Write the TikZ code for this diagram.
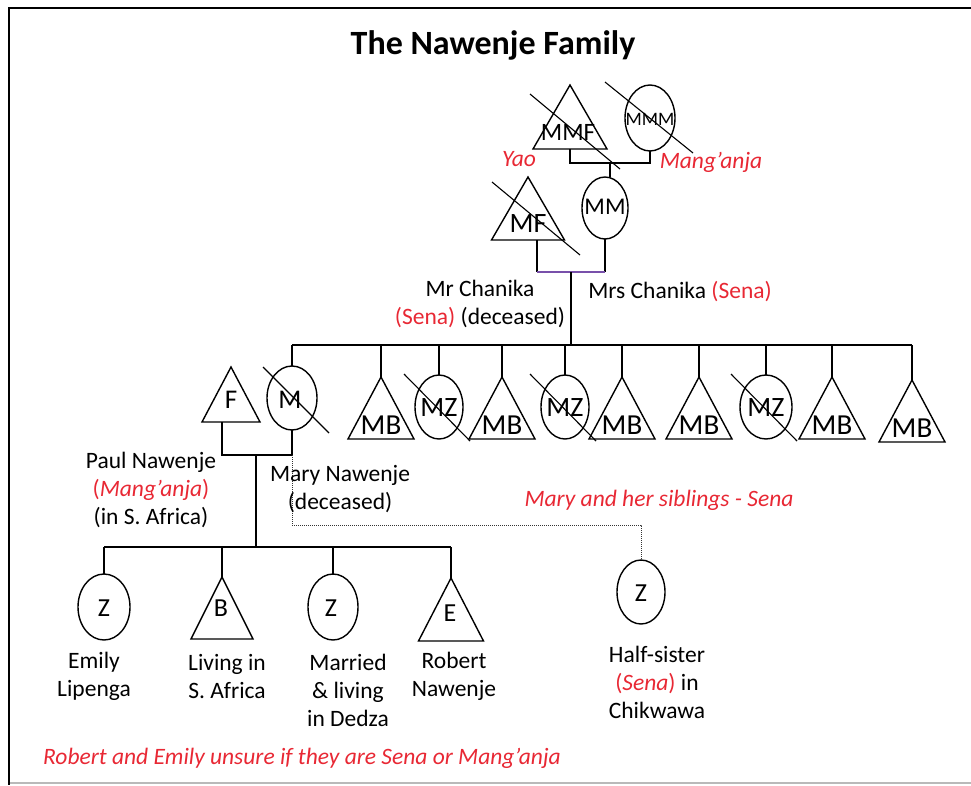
\documentclass[tikz,border=0pt]{standalone}
\usepackage{fontspec}
\setmainfont{Carlito}
\usetikzlibrary{shapes.geometric,calc}
\definecolor{ethnic}{RGB}{232,40,52}
\definecolor{wedlock}{RGB}{120,80,170}
\newcommand\eth[1]{\textcolor{ethnic}{#1}}
\begin{document}
\begin{tikzpicture}[x=1pt,y=-1pt,
  line/.style={line width=1.5pt, black},
  halfline/.style={line width=1pt, black!80, densely dotted},
  person/.style={draw=black, line width=1.4pt},
  strike/.style={line width=1.1pt, black},
  woman/.style={ellipse, draw=black, line width=1.4pt, inner sep=0pt, outer sep=0pt,
                minimum width=50, minimum height=64},
  man/.style={rectangle, inner sep=0pt, outer sep=0pt, minimum width=66, minimum height=62},
  lbl/.style={inner sep=0pt, font=\fontsize{27}{27}\selectfont},
  txt/.style={inner sep=0pt, align=center, font=\fontsize{23.5}{28}\selectfont},
  eth/.style={inner sep=0pt, align=center, text=ethnic, font=\fontsize{23.5}{28}\selectfont\itshape}]
\useasboundingbox (0,0) rectangle (971,785);

% frame
\draw[gray!55, line width=2pt] (9,783) -- (971,783);
\draw[black, line width=2.5pt] (971,8) -- (9,8) -- (9,785);

% title
\node[font=\fontsize{34}{34}\selectfont\bfseries] (title) at (493,45) {The Nawenje Family};

% generation I
\node[man, minimum width=74, minimum height=64] (mmf) at (570,117) {};
\node[woman, minimum width=50, minimum height=66] (mmm) at (650,118) {};
% generation II
\node[man, minimum width=73, minimum height=63] (mf) at (528,208.5) {};
\node[woman, minimum width=46, minimum height=62] (mm) at (605,208) {};
% generation III
\node[man, minimum width=58, minimum height=55] (f) at (231,394.5) {};
\node[woman] (m) at (292,398) {};
\node[man] (mb1) at (381,408) {};
\node[woman, minimum width=48] (mz1) at (439,407) {};
\node[man] (mb2) at (502,408) {};
\node[woman, minimum width=48] (mz2) at (565,407) {};
\node[man] (mb3) at (622,408) {};
\node[man] (mb4) at (699,408) {};
\node[woman, minimum width=52] (mz3) at (766,407) {};
\node[man] (mb5) at (832,408) {};
\node[man] (mb6) at (912,411) {};
% generation IV
\node[woman, minimum width=52, minimum height=66] (z1) at (104,607) {};
\node[man, minimum width=62, minimum height=62] (b) at (222,608) {};
\node[woman, minimum height=66] (z2) at (333,607) {};
\node[man, minimum width=65, minimum height=63] (e) at (451,609.5) {};
\node[woman, minimum width=48, minimum height=64] (z3) at (641,592) {};

% triangles for the men
\foreach \n in {mmf,mf,f,mb1,mb2,mb3,mb4,mb5,mb6,b,e}
  \draw[person] (\n.north) -- (\n.south east) -- (\n.south west) -- cycle;

% kin-term labels
\node[lbl, font=\fontsize{25}{25}\selectfont] at (568,132) {MMF};
\node[lbl, font=\fontsize{19}{19}\selectfont] at (650,119) {MMM};
\node[lbl, font=\fontsize{24}{24}\selectfont] at (605,207) {MM};
\node[lbl, font=\fontsize{28}{28}\selectfont] at (528,224) {MF};
\node[lbl] at (231,400) {F};
\node[lbl] at (290,400) {M};
\foreach \n in {mb1,mb2,mb3,mb4,mb5,mb6}
  \node[lbl, font=\fontsize{29}{29}\selectfont] at ($(\n.south)+(0,-14)$) {MB};
\foreach \n in {mz1,mz2,mz3}
  \node[lbl, font=\fontsize{28}{28}\selectfont] at ($(\n.center)+(0,1)$) {MZ};
\node[lbl, font=\fontsize{26}{26}\selectfont] at (104,608) {Z};
\node[lbl, font=\fontsize{26}{26}\selectfont] at (221,608) {B};
\node[lbl, font=\fontsize{26}{26}\selectfont] at (331,608) {Z};
\node[lbl, font=\fontsize{26}{26}\selectfont] at (450,613) {E};
\node[lbl, font=\fontsize{26}{26}\selectfont] at (641,593) {Z};

% deceased: struck through
\draw[strike] ($(mmf.center)+(-40,-23)$) -- ($(mmf.center)+(50,52)$);
\draw[strike] ($(mmm.center)+(-45,-36)$) -- ($(mmm.center)+(43,35)$);
\draw[strike] ($(mf.center)+(-36,-26.5)$) -- ($(mf.center)+(52,46.5)$);
\draw[strike] ($(m.center)+(-29,-31)$) -- ($(m.center)+(37,35)$);
\foreach \n in {mz1,mz2,mz3}
  \draw[strike] ($(\n.center)+(-35,-33)$) -- ($(\n.center)+(31,34)$);

% MMF + MMM
\draw[line] (mmf.south) -- ++(0,14) coordinate (g1) -| (mmm.south);
\coordinate (g1mid) at ($(g1)!0.5!(g1 -| mmm.south)$);
\draw[line] (g1mid) -- (g1mid |- mm.north);

% MF + MM
\draw[line] ($(mf.south)+(9,0)$) -- ++(0,32) coordinate (g2a);
\draw[line] (mm.south) -- (mm.south |- g2a) coordinate (g2b);
\draw[line, wedlock] (g2a) -- (g2b);
\draw[line] ($(g2a)!0.5!(g2b)$) -- ++(0,73) coordinate (sib);

% Mary and her siblings
\draw[line] (m.north |- sib) -- (mb6.north |- sib);
\foreach \n in {m,mb1,mz1,mb2,mz2,mb3,mb4,mz3,mb5,mb6}
  \draw[line] (\n.north |- sib) -- (\n.north);

% F + M
\draw[line] ($(f.south)+(-9,0)$) -- ++(0,33) coordinate (pm) -| (m.south);
\draw[line] ($(pm)+(34,0)$) -- ++(0,92) coordinate (kids);
\draw[line] (z1.north |- kids) -- (e.north |- kids);
\foreach \n in {z1,b,z2,e}
  \draw[line] (\n.north |- kids) -- (\n.north);

% half-sister
\draw[halfline] (m.south |- pm) -- ++(0,70) -| (z3.north);

% names and notes
\node[eth] (yao) at (519,159) {Yao};
\node[eth] (mang) at (711,162) {Mang’anja};
\node[txt] (mrch) at (480,304) {Mr Chanika\\\eth{(Sena)} (deceased)};
\node[txt] (mrsch) at (680,292) {Mrs Chanika \eth{(Sena)}};
\node[txt] (paul) at (151,490) {Paul Nawenje\\\eth{(\textit{Mang’anja})}\\(in S. Africa)};
\node[txt] (mary) at (340,489) {Mary Nawenje\\(deceased)};
\node[eth] (sena) at (659,500) {Mary and her siblings - Sena};
\node[txt] (emily) at (94,676) {Emily\\Lipenga};
\node[txt] (brother) at (227,676) {Living in\\S. Africa};
\node[txt] (sister) at (348,690) {Married\\\& living\\in Dedza};
\node[txt] (robert) at (454,676) {Robert\\Nawenje};
\node[txt] (half) at (657,682) {Half-sister\\\eth{(\textit{Sena})} in\\Chikwawa};
\node[eth, anchor=west] (unsure) at (43,758) {Robert and Emily unsure if they are Sena or Mang’anja};
\end{tikzpicture}
\end{document}
